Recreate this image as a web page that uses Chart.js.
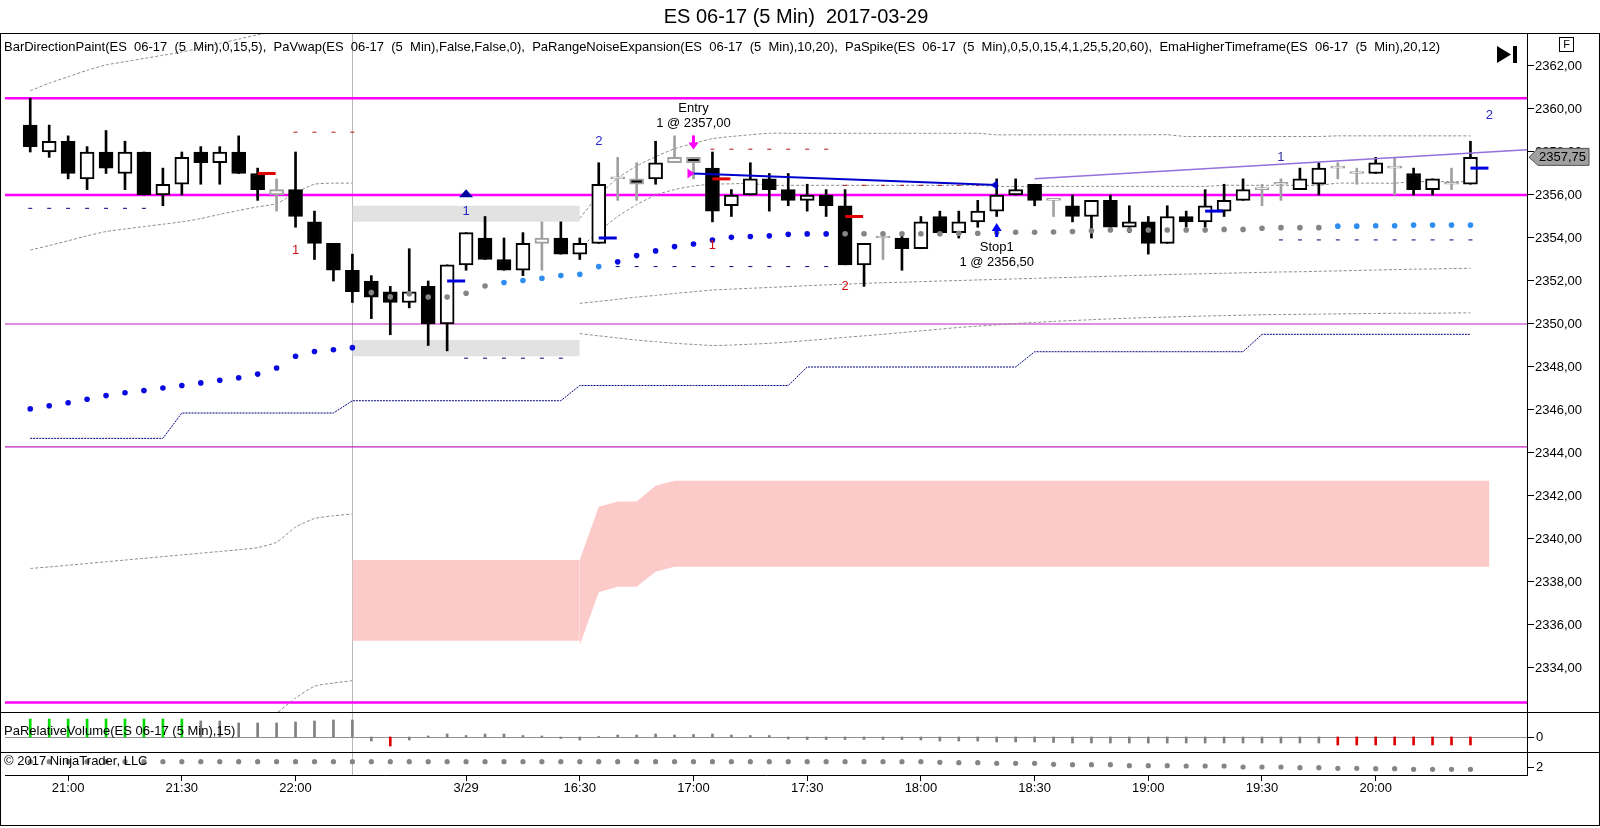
<!DOCTYPE html>
<html><head><meta charset="utf-8">
<script src="https://cdn.jsdelivr.net/npm/chart.js@4.4.0/dist/chart.umd.min.js"></script>
<style>html,body{margin:0;padding:0;background:#fff;overflow:hidden}canvas{display:block}</style>
</head><body>
<canvas id="c" width="1600" height="828"></canvas>
<script>
// ---------- DATA ----------
const categories = ["20:50","20:55","21:00","21:05","21:10","21:15","21:20","21:25","21:30","21:35","21:40","21:45","21:50","21:55","22:00","22:05","22:10","22:15",
"15:35","15:40","15:45","15:50","15:55","16:00","16:05","16:10","16:15","16:20","16:25","16:30","16:35","16:40","16:45","16:50","16:55","17:00",
"17:05","17:10","17:15","17:20","17:25","17:30","17:35","17:40","17:45","17:50","17:55","18:00","18:05","18:10","18:15","18:20","18:25","18:30",
"18:35","18:40","18:45","18:50","18:55","19:00","19:05","19:10","19:15","19:20","19:25","19:30","19:35","19:40","19:45","19:50","19:55","20:00",
"20:05","20:10","20:15","20:20","20:25"];
const xTickIdx  = [2,8,14,23,29,35,41,47,53,59,65,71];
const xTickText = ["21:00","21:30","22:00","3/29","16:30","17:00","17:30","18:00","18:30","19:00","19:30","20:00"];
const priceTicks = [2334,2336,2338,2340,2342,2344,2346,2348,2350,2352,2354,2356,2358,2360,2362];

const openP = [2359.25,2358.0,2358.5,2356.75,2358.0,2357.0,2358.0,2356.0,2356.5,2358.0,
 2357.5,2358.0,2357.0,2356.0,2356.25,2354.75,2353.75,2352.5,2352.0,2351.5,
 2351.0,2351.75,2350.0,2352.75,2354.0,2353.0,2352.5,2353.75,2354.0,2353.25,
 2353.75,2356.75,2356.75,2356.75,2357.5,2357.75,2357.25,2355.5,2356.0,2356.75,
 2356.25,2355.75,2356.0,2355.5,2352.75,2354.0,2354.0,2353.5,2355.0,2354.25,
 2354.75,2355.25,2356.0,2356.5,2355.75,2355.5,2355.0,2355.75,2354.5,2354.75,
 2353.75,2355.0,2354.75,2355.25,2355.75,2356.25,2356.5,2356.25,2356.5,2357.25,
 2357.0,2357.0,2357.25,2357.0,2356.25,2356.5,2356.5];
const highP = [2360.5,2359.25,2358.75,2358.25,2359.0,2358.5,2358.0,2357.25,2358.0,2358.25,
 2358.25,2358.75,2357.25,2356.75,2358.0,2355.25,2353.75,2353.25,2352.25,2351.75,
 2353.5,2352.0,2352.75,2354.25,2355.0,2354.0,2354.25,2354.75,2354.75,2354.0,
 2357.5,2357.75,2357.5,2358.5,2358.75,2357.75,2358.0,2356.25,2357.5,2357.0,
 2357.0,2356.5,2356.25,2356.25,2353.75,2354.25,2354.25,2355.0,2355.25,2355.25,
 2355.75,2356.75,2356.75,2356.5,2355.75,2356.0,2355.75,2356.0,2355.5,2355.0,
 2355.5,2355.25,2356.25,2356.5,2356.75,2356.5,2356.75,2357.25,2357.5,2357.5,
 2357.25,2357.75,2357.75,2357.25,2356.75,2357.25,2358.5];
const lowP = [2358.0,2357.75,2356.75,2356.25,2357.0,2356.25,2356.0,2355.5,2356.0,2356.5,
 2356.5,2357.0,2355.75,2355.25,2354.5,2353.0,2352.0,2351.0,2350.25,2349.5,
 2350.75,2349.0,2348.75,2352.5,2353.0,2352.5,2352.25,2352.5,2353.25,2353.0,
 2353.75,2355.75,2355.75,2356.5,2357.5,2356.75,2354.75,2355.0,2356.0,2355.25,
 2355.5,2355.25,2355.0,2352.75,2351.75,2353.0,2352.5,2353.5,2354.25,2354.0,
 2354.5,2355.0,2356.0,2355.5,2355.0,2354.75,2354.0,2354.5,2354.25,2353.25,
 2353.75,2354.5,2354.5,2355.0,2355.75,2355.5,2355.75,2356.25,2356.0,2356.75,
 2356.5,2357.0,2356.0,2356.0,2356.0,2356.25,2356.5];
const closeP = [2358.25,2358.5,2357.0,2358.0,2357.25,2358.0,2356.0,2356.5,2357.75,2357.5,
 2358.0,2357.0,2356.25,2356.25,2355.0,2353.75,2352.5,2351.5,2351.25,2351.0,
 2351.5,2350.0,2352.75,2354.25,2353.0,2352.5,2353.75,2354.0,2353.25,2353.75,
 2356.5,2356.75,2356.5,2357.5,2357.75,2357.5,2355.25,2356.0,2356.75,2356.25,
 2355.75,2356.0,2355.5,2352.75,2353.75,2354.0,2353.5,2354.75,2354.25,2354.75,
 2355.25,2356.0,2356.25,2355.75,2355.75,2355.0,2355.75,2354.5,2354.75,2353.75,
 2355.0,2354.75,2355.5,2355.75,2356.25,2356.25,2356.5,2356.75,2357.25,2357.25,
 2357.0,2357.5,2357.25,2356.25,2356.75,2356.5,2357.75];
const grayBars = [13,27,31,32,34,35,45,54,65,66,69,70,72,75];

const vwapDots = [2346.05,2346.2,2346.34,2346.5,2346.67,2346.8,2346.91,2347.02,2347.14,2347.26,
 2347.38,2347.5,2347.67,2347.95,2348.5,2348.72,2348.8,2348.9,2351.46,2351.26,
 2351.41,2351.25,2351.25,2351.43,2351.77,2351.93,2352.02,2352.13,2352.25,2352.31,
 2352.67,2352.89,2353.18,2353.4,2353.6,2353.72,2353.91,2354.03,2354.07,2354.1,
 2354.17,2354.19,2354.19,2354.2,2354.2,2354.2,2354.2,2354.2,2354.2,2354.22,
 2354.22,2354.25,2354.27,2354.27,2354.28,2354.3,2354.34,2354.37,2354.37,2354.37,
 2354.37,2354.37,2354.37,2354.4,2354.4,2354.45,2354.48,2354.48,2354.48,2354.55,
 2354.55,2354.57,2354.57,2354.6,2354.6,2354.6,2354.6];
const vwapColorCode = "bbbbbbbbbbbbbbbbbb"+"ggggggg"+"llllll"+"bbbbbbbbbbbb"+"gggggggggggggggggggggggggg"+"llllllll";

const emaHTF = [2344.68,2344.68,2344.68,2344.68,2344.68,2344.68,2344.68,2344.68,
 2345.86,2345.86,2345.86,2345.86,2345.86,2345.86,2345.86,2345.86,2345.86,
 2346.43,2346.43,2346.43,2346.43,2346.43,2346.43,2346.43,2346.43,2346.43,2346.43,2346.43,2346.43,
 2347.14,2347.14,2347.14,2347.14,2347.14,2347.14,2347.14,2347.14,2347.14,2347.14,2347.14,2347.14,
 2348.0,2348.0,2348.0,2348.0,2348.0,2348.0,2348.0,2348.0,2348.0,2348.0,2348.0,2348.0,
 2348.71,2348.71,2348.71,2348.71,2348.71,2348.71,2348.71,2348.71,2348.71,2348.71,2348.71,2348.71,
 2349.52,2349.52,2349.52,2349.52,2349.52,2349.52,2349.52,2349.52,2349.52,2349.52,2349.52,2349.52];

// noise-expansion bands, session 1 (from bar 0)
const band1Start = 0;
const bandUp1 = [2360.85,2361.2,2361.5,2361.8,2362.05,2362.2,2362.35,2362.5,2362.65,2362.85,2363.05,2363.25,2363.45,2363.6,2363.75,2363.85,2363.95,2364.0];
const bandLo1 = [2353.44,2353.65,2353.87,2354.1,2354.3,2354.42,2354.53,2354.64,2354.75,2354.9,2355.1,2355.28,2355.45,2355.6,2356.1,2356.5,2356.55,2356.55];
const farUp1  = [2338.63,2338.7,2338.78,2338.86,2338.94,2339.02,2339.1,2339.18,2339.26,2339.34,2339.42,2339.5,2339.6,2339.85,2340.55,2340.95,2341.08,2341.16];
const farLo1Start = 12;
const farLo1  = [2331.3,2331.9,2332.6,2333.15,2333.3,2333.41];
// session 2 (from bar 29)
const band2Start = 29;
const bandUp2 = [2354.92,2356.0,2356.78,2357.35,2357.78,2358.15,2358.4,2358.62,2358.72,2358.8,
 2358.87,2358.87,2358.87,2358.87,2358.87,2358.87,2358.87,2358.87,2358.87,2358.87,2358.87,2358.87,
 2358.8,2358.8,2358.8,2358.8,2358.8,2358.8,2358.8,2358.8,2358.8,2358.8,
 2358.72,2358.72,2358.72,2358.72,2358.72,2358.72,2358.72,2358.72,
 2358.75,2358.75,2358.75,2358.75,2358.75,2358.75,2358.75,2358.75];
const bandMid2 = [2353.52,2354.3,2355.0,2355.55,2356.0,2356.25,2356.42,2356.5,2356.52,2356.54,
 2356.45,2356.45,2356.45,2356.45,2356.45,2356.45,2356.45,2356.45,2356.45,2356.45,2356.45,2356.45,
 2356.4,2356.4,2356.4,2356.4,2356.4,2356.4,2356.4,2356.4,2356.4,2356.4,2356.4,2356.4,
 2356.45,2356.45,2356.45,2356.45,2356.45,2356.45,
 2356.55,2356.55,2356.55,2356.55,2356.62,2356.62,2356.62,2356.62];
const bandLow2a = [2350.96,2351.05,2351.15,2351.25,2351.33,2351.42,2351.5,2351.58,2351.62,2351.66,
 2351.7,2351.74,2351.78,2351.82,2351.85,2351.89,2351.92,2351.94,2351.97,2352.0,
 2352.02,2352.05,2352.07,2352.1,2352.12,2352.15,2352.17,2352.2,2352.22,2352.25,
 2352.27,2352.3,2352.32,2352.34,2352.36,2352.38,2352.4,2352.42,2352.43,2352.45,
 2352.47,2352.49,2352.51,2352.53,2352.55,2352.56,2352.58,2352.59];
const bandLow2b = [2349.55,2349.45,2349.35,2349.25,2349.18,2349.1,2349.05,2349.0,2349.02,2349.06,
 2349.1,2349.16,2349.23,2349.3,2349.38,2349.45,2349.52,2349.6,2349.68,2349.76,
 2349.84,2349.9,2349.96,2350.02,2350.07,2350.12,2350.16,2350.2,2350.24,2350.27,
 2350.3,2350.32,2350.35,2350.37,2350.39,2350.41,2350.43,2350.44,2350.45,2350.46,
 2350.47,2350.48,2350.49,2350.5,2350.5,2350.5,2350.51,2350.52];

// spike zones (gray) : bars 17..29
const zoneFrom = 17, zoneTo = 29;
const zoneTop = [2355.5, 2349.25];
const zoneBottom = [2354.75, 2348.5];
// pink band
const pinkLeftBars = [17, 29];
const pinkLeftTop = [2339.02, 2339.02];
const pinkLeftBottom = [2335.27, 2335.27];
const pinkRightStart = 29;
const pinkRightTop = [2339.03,2341.5,2341.74,2341.74,2342.48,
 2342.71,2342.71,2342.71,2342.71,2342.71,2342.71,2342.71,2342.71,2342.71,2342.71,2342.71,2342.71,2342.71,2342.71,2342.71,2342.71,2342.71,2342.71,2342.71,2342.71,2342.71,2342.71,
 2342.71,2342.71,2342.71,2342.71,2342.71,2342.71,2342.71,2342.71,2342.71,2342.71,2342.71,2342.71,2342.71,2342.71,2342.71,2342.71,2342.71,2342.71,2342.71,2342.71,2342.71,2342.71];
const pinkRightBottom = [2335.07,2337.52,2337.78,2337.78,2338.48,
 2338.71,2338.71,2338.71,2338.71,2338.71,2338.71,2338.71,2338.71,2338.71,2338.71,2338.71,2338.71,2338.71,2338.71,2338.71,2338.71,2338.71,2338.71,2338.71,2338.71,2338.71,2338.71,
 2338.71,2338.71,2338.71,2338.71,2338.71,2338.71,2338.71,2338.71,2338.71,2338.71,2338.71,2338.71,2338.71,2338.71,2338.71,2338.71,2338.71,2338.71,2338.71,2338.71,2338.71,2338.71];

// horizontal levels
const levelPrices = [2360.5, 2356.0, 2350.0, 2344.28, 2332.4];
const levelThick  = [true, true, false, false, true];
// trend lines [bar, price]
const blueTrend = [[35, 2357.0],[51, 2356.47]];
const purpleTrend = [[53, 2356.75],[79, 2358.1]];
// per-bar dash rows
const navyDashFrom = [0,23,31,66], navyDashTo = [6,28,42,76], navyDashPrice = [2355.38,2348.41,2352.67,2353.91];
const redDashFrom = [14,36,43], redDashTo = [17,42,51], redDashPrice = [2358.92,2358.13,2356.45];
// thick vwap ticks
const blueTickBar = [22,30,62,76], blueTickPrice = [2352.0,2354.0,2355.25,2357.25];
const redTickBar = [12,36,43], redTickPrice = [2357.0,2356.75,2355.0];
// annotations
const annText  = ["1","2","1","1","2","2","1","Entry","1 @ 2357,00","Stop1","1 @ 2356,50"];
const annBar   = [23,30,14,36,43,77,66,35,35,51,51];
const annPrice = [2355.22,2358.48,2353.44,2353.67,2351.74,2359.72,2357.75,2360.03,2359.33,2353.57,2352.85];
const annColor = ["#2828c8","#2828c8","#d01010","#d01010","#d01010","#2828c8","#3030a0","#000","#000","#000","#000"];
const sessionBreakBar = 17;
const lastPrice = 2357.75;

// lower panels
const relVol = [1.8,1.8,1.8,1.8,1.8,1.8,1.8,1.8,1.8,1.6,
 1.6,1.4,1.4,1.4,1.5,1.6,1.7,1.7,-0.4,-0.9,
 -0.3,0.1,0.3,0.15,0.3,0.3,0.15,0.1,-0.15,-0.3,
 0.05,0.2,0.2,0.3,0.2,0.25,0.3,0.2,0.15,0.15,
 -0.2,-0.25,-0.25,-0.25,-0.25,-0.25,-0.25,-0.3,-0.4,-0.4,
 -0.4,-0.5,-0.5,-0.5,-0.55,-0.6,-0.6,-0.6,-0.6,-0.6,
 -0.6,-0.6,-0.6,-0.6,-0.6,-0.6,-0.6,-0.6,-0.6,-0.8,
 -0.8,-0.8,-0.8,-0.8,-0.8,-0.8,-0.8];
const relVolColorCode = "GGGGGGGGG"+"gggggggggg"+"r"+"ggggggggggggggggggggggggggggggggggggggggggggggggg"+"rrrrrrrr";
const swingDots = [2.53,2.53,2.53,2.53,2.53,2.53,2.53,2.53,2.53,2.53,2.53,2.53,2.53,2.53,2.53,2.53,2.53,2.53,2.53,2.53,
 2.53,2.53,2.53,2.53,2.53,2.53,2.53,2.53,2.53,2.53,2.53,2.53,2.53,2.53,2.53,2.53,2.53,2.53,2.53,2.53,
 2.53,2.53,2.53,2.53,2.53,2.53,2.53,2.53,2.47,2.43,2.43,2.37,2.37,2.37,2.27,2.23,2.23,2.23,2.13,2.13,
 2.13,2.1,2.1,2.1,2.0,2.0,2.0,1.93,1.93,1.87,1.87,1.83,1.83,1.77,1.77,1.77,1.77];

const titleText = "ES 06-17 (5 Min)  2017-03-29";
const legendText = "BarDirectionPaint(ES  06-17  (5  Min),0,15,5),  PaVwap(ES  06-17  (5  Min),False,False,0),  PaRangeNoiseExpansion(ES  06-17  (5  Min),10,20),  PaSpike(ES  06-17  (5  Min),0,5,0,15,4,1,25,5,20,60),  EmaHigherTimeframe(ES  06-17  (5  Min),20,12)";
const volLabel = "PaRelativeVolume(ES 06-17 (5 Min),15)";
const copyText = "\u00A9 2017 NinjaTrader, LLC";

// ---------- LAYOUT / STYLE ----------
const FONT = '"Liberation Sans", Arial, sans-serif';
const X_MIN = -1.3316, X_MAX = 78.984;
const Y_MIN = 2329.023, Y_MAX = 2363.488;
const MAIN_BOTTOM = 712, VOL_BOTTOM = 752;
const clipMain = {left:0, top:0, right:0, bottom:-63};
const clipVol = {left:0, top:-678, right:0, bottom:-23};
const clipSwing = {left:0, top:-718, right:0, bottom:0};
const GRAYC = '#a0a0a0';
const bars = closeP.map((_, i) => i);
const isGray = i => grayBars.includes(i);
const dotCol = {b:'#0a0ae0', l:'#2e8ef0', g:'#858585'};
const volCol = {G:'#00dd00', g:'#808080', r:'#dd0000'};

const datasets = [];
// pink band (left & right parts)
datasets.push({type:'line', data: pinkLeftBars.map((b,k)=>({x:b,y:pinkLeftTop[k]})), borderWidth:0, pointRadius:0, fill:'+1', backgroundColor:'#fdcaca', order:100, clip:clipMain});
datasets.push({type:'line', data: pinkLeftBars.map((b,k)=>({x:b,y:pinkLeftBottom[k]})), borderWidth:0, pointRadius:0, fill:false, order:100, clip:clipMain});
datasets.push({type:'line', data: pinkRightTop.map((v,k)=>({x:pinkRightStart+k,y:v})), borderWidth:0, pointRadius:0, fill:'+1', backgroundColor:'#fdcaca', order:100, clip:clipMain});
datasets.push({type:'line', data: pinkRightBottom.map((v,k)=>({x:pinkRightStart+k,y:v})), borderWidth:0, pointRadius:0, fill:false, order:100, clip:clipMain});
// gray zones
zoneTop.forEach((t,k)=>{
  datasets.push({type:'line', data:[{x:zoneFrom,y:t},{x:zoneTo,y:t}], borderWidth:0, pointRadius:0, fill:'+1', backgroundColor:'#e2e2e2', order:99, clip:clipMain});
  datasets.push({type:'line', data:[{x:zoneFrom,y:zoneBottom[k]},{x:zoneTo,y:zoneBottom[k]}], borderWidth:0, pointRadius:0, fill:false, order:99, clip:clipMain});
});
// dashed bands
function bandDS(arr, start){
  return {type:'line', data: arr.map((v,k)=>({x:start+k,y:v})), borderColor:'#8c8c8c', borderWidth:1, borderDash:[3,2], pointRadius:0, fill:false, tension:0.2, order:90, clip:clipMain};
}
[ [bandUp1,band1Start],[bandLo1,band1Start],[farUp1,band1Start],[farLo1,farLo1Start],
  [bandUp2,band2Start],[bandMid2,band2Start],[bandLow2a,band2Start],[bandLow2b,band2Start] ].forEach(p=>datasets.push(bandDS(p[0],p[1])));
// EMA higher timeframe
datasets.push({type:'line', data: emaHTF.map((v,i)=>({x:i,y:v})), borderColor:'#000080', borderWidth:1, borderDash:[2,1], pointRadius:0, fill:false, order:85, clip:clipMain});
// candles: wicks and bodies
datasets.push({type:'bar', data: bars.map(i=>({x:i,y:[lowP[i],highP[i]]})), backgroundColor: bars.map(i=>isGray(i)?GRAYC:'#000'), borderWidth:0, barThickness:2, grouped:false, order:21, clip:clipMain});
datasets.push({type:'bar', data: bars.map(i=>({x:i,y:[openP[i],closeP[i]]})), backgroundColor: bars.map(i=>closeP[i]<openP[i]?'#000':'#fff'),
  borderColor: bars.map(i=>isGray(i)?GRAYC:'#000'), borderWidth:2, borderSkipped:false, barThickness:14, minBarLength:2, grouped:false, order:20, clip:clipMain});
// vwap dots
datasets.push({type:'line', data: vwapDots.map((v,i)=>({x:i,y:v})), showLine:false, pointRadius:2.8, pointBorderWidth:0,
  pointBackgroundColor: bars.map(i=>dotCol[vwapColorCode[i]]), order:5, clip:clipMain});
// dash rows
function dashRow(from,to,price,color){
  const d=[]; for(let i=from;i<=to;i++) d.push({x:i,y:price});
  return {type:'line', data:d, showLine:false, pointStyle:'line', pointRadius:2, pointBorderWidth:1, pointBorderColor:color, order:6, clip:clipMain};
}
navyDashFrom.forEach((f,k)=>datasets.push(dashRow(f,navyDashTo[k],navyDashPrice[k],'#000080')));
redDashFrom.forEach((f,k)=>datasets.push(dashRow(f,redDashTo[k],redDashPrice[k],'#b01010')));
// trend lines
datasets.push({type:'line', data: blueTrend.map(p=>({x:p[0],y:p[1]})), borderColor:'#0000cc', borderWidth:2, pointRadius:0, fill:false, order:4, clip:clipMain});
datasets.push({type:'line', data: purpleTrend.map(p=>({x:p[0],y:p[1]})), borderColor:'#9370db', borderWidth:1.5, pointRadius:0, fill:false, order:4, clip:clipMain});
// relative volume
datasets.push({type:'bar', yAxisID:'yv', data: relVol.map((v,i)=>({x:i,y:v})), backgroundColor: bars.map(i=>volCol[relVolColorCode[i]]), borderWidth:0, barThickness:2, grouped:false, order:3, clip:clipVol});
// swing dots
datasets.push({type:'line', yAxisID:'yd', data: swingDots.map((v,i)=>({x:i,y:v})), showLine:false, pointRadius:2.6, pointBorderWidth:0, pointBackgroundColor:'#858585', order:3, clip:clipSwing});

function tri(ctx, pts, color){ ctx.fillStyle=color; ctx.beginPath(); ctx.moveTo(pts[0][0],pts[0][1]); for(let k=1;k<pts.length;k++) ctx.lineTo(pts[k][0],pts[k][1]); ctx.closePath(); ctx.fill(); }

const overlay = {
  id:'overlay',
  beforeDatasetsDraw(chart){
    const {ctx, chartArea:a, scales:{x,y,yv}} = chart;
    ctx.save();
    const sx = Math.round(x.getPixelForValue(sessionBreakBar))+0.5;
    ctx.strokeStyle='#b8b8b8'; ctx.lineWidth=1;
    ctx.beginPath(); ctx.moveTo(sx,a.top); ctx.lineTo(sx,a.bottom); ctx.stroke();
    levelPrices.forEach((p,k)=>{
      const py = y.getPixelForValue(p);
      ctx.strokeStyle = levelThick[k] ? '#ff00ff' : '#c020c0';
      ctx.lineWidth = levelThick[k] ? 2.5 : 1.2;
      ctx.beginPath(); ctx.moveTo(a.left,py); ctx.lineTo(a.right,py); ctx.stroke();
    });
    const zy = Math.round(yv.getPixelForValue(0))+0.5;
    ctx.strokeStyle='#909090'; ctx.lineWidth=1;
    ctx.beginPath(); ctx.moveTo(a.left,zy); ctx.lineTo(a.right,zy); ctx.stroke();
    ctx.restore();
  },
  afterDatasetsDraw(chart){
    const {ctx, scales:{x,y}} = chart;
    ctx.save();
    ctx.lineWidth=3; ctx.lineCap='butt';
    const step = x.getPixelForValue(1)-x.getPixelForValue(0);
    blueTickBar.forEach((b,k)=>{ const px=x.getPixelForValue(b), py=y.getPixelForValue(blueTickPrice[k]); ctx.strokeStyle='#0000dd'; ctx.beginPath(); ctx.moveTo(px,py); ctx.lineTo(px+step*0.95,py); ctx.stroke(); });
    redTickBar.forEach((b,k)=>{ const px=x.getPixelForValue(b), py=y.getPixelForValue(redTickPrice[k]); ctx.strokeStyle='#e00000'; ctx.beginPath(); ctx.moveTo(px,py); ctx.lineTo(px+step*0.95,py); ctx.stroke(); });
    let px, py;
    px=x.getPixelForValue(23); py=y.getPixelForValue(2356.08);
    tri(ctx,[[px-7,py+4],[px+7,py+4],[px,py-4]],'#0000a0');
    px=x.getPixelForValue(35); py=y.getPixelForValue(2358.4);
    ctx.fillStyle='#ff00ff'; ctx.fillRect(px-1.5,py-8,3,8);
    tri(ctx,[[px-5,py-1],[px+5,py-1],[px,py+6]],'#ff00ff');
    py=y.getPixelForValue(blueTrend[0][1]);
    tri(ctx,[[px-6,py-5],[px-6,py+5],[px+1,py]],'#ff00ff');
    px=x.getPixelForValue(51); py=y.getPixelForValue(2354.37);
    ctx.fillStyle='#0000ff'; ctx.fillRect(px-1.5,py-1,3,8);
    tri(ctx,[[px-5,py+1],[px+5,py+1],[px,py-7]],'#0000ff');
    px=x.getPixelForValue(blueTrend[1][0]); py=y.getPixelForValue(blueTrend[1][1]);
    tri(ctx,[[px-6,py],[px+1,py-5],[px+1,py+5]],'#0000cc');
    ctx.textAlign='center'; ctx.textBaseline='middle';
    annText.forEach((t,k)=>{ ctx.font = '13px '+FONT; ctx.fillStyle=annColor[k]; ctx.fillText(t, x.getPixelForValue(annBar[k]), y.getPixelForValue(annPrice[k])); });
    ctx.restore();
  },
  afterDraw(chart){
    const {ctx, chartArea:a, scales:{y,yv,yd}} = chart;
    const W = chart.width;
    ctx.save();
    ctx.strokeStyle='#000'; ctx.lineWidth=1;
    [MAIN_BOTTOM, VOL_BOTTOM].forEach(v=>{ ctx.beginPath(); ctx.moveTo(0,v+0.5); ctx.lineTo(W,v+0.5); ctx.stroke(); });
    ctx.beginPath(); ctx.moveTo(0,33.5); ctx.lineTo(W,33.5); ctx.stroke();
    ctx.strokeRect(0.5,33.5,W-1,792);
    ctx.fillStyle='#000'; ctx.textBaseline='middle'; ctx.textAlign='center';
    ctx.font='20px '+FONT; ctx.fillText(titleText, 796, 17);
    ctx.textAlign='left'; ctx.font='13px '+FONT;
    ctx.fillText(legendText, 4, 47);
    ctx.fillText(volLabel, 4, 731);
    ctx.fillText(copyText, 4, 761);
    ctx.font='13px '+FONT;
    [[yv,0,'0'],[yd,2,'2']].forEach(r=>{ const py=Math.round(r[0].getPixelForValue(r[1]))+0.5; ctx.beginPath(); ctx.moveTo(a.right,py); ctx.lineTo(a.right+7,py); ctx.stroke(); ctx.fillText(r[2], a.right+9, py); });
    const cy = y.getPixelForValue(lastPrice);
    ctx.fillStyle='#a0a0a0'; ctx.strokeStyle='#505050';
    ctx.beginPath(); ctx.moveTo(a.right+2,cy); ctx.lineTo(a.right+11,cy-9); ctx.lineTo(a.right+62,cy-9); ctx.lineTo(a.right+62,cy+8); ctx.lineTo(a.right+11,cy+8); ctx.closePath(); ctx.fill(); ctx.stroke();
    ctx.fillStyle='#000'; ctx.fillText(lastPrice.toFixed(2).replace('.',','), a.right+12, cy);
    ctx.strokeStyle='#000'; ctx.strokeRect(1559.5,37.5,14,14);
    ctx.font='11px '+FONT; ctx.textAlign='center'; ctx.fillText('F',1566.5,44.5);
    tri(ctx,[[1497,46],[1497,63],[1511,54.5]],'#000');
    ctx.fillStyle='#000'; ctx.fillRect(1513,46,4,17);
    ctx.restore();
  }
};

new Chart(document.getElementById('c'), {
  type:'bar',
  data:{ datasets },
  options:{
    responsive:false, animation:false, devicePixelRatio:1, events:[],
    layout:{padding:{top:34,left:1,right:0,bottom:0}},
    plugins:{legend:{display:false}, tooltip:{enabled:false}, title:{display:false}},
    scales:{
      x:{type:'linear', min:X_MIN, max:X_MAX, offset:false, position:'bottom',
        afterFit(s){ s.height = 53; },
        afterBuildTicks(s){ s.ticks = xTickIdx.map(v=>({value:v})); },
        ticks:{autoSkip:false, maxRotation:0, minRotation:0, padding:0, color:'#000', font:{family:FONT,size:13},
          callback(v){ const k=xTickIdx.indexOf(v); return k>=0 ? xTickText[k] : ''; }},
        grid:{drawOnChartArea:false, drawTicks:true, tickLength:6, color:'#000', offset:false},
        border:{display:true, color:'#000', width:1}},
      y:{type:'linear', position:'right', min:Y_MIN, max:Y_MAX, beginAtZero:false,
        afterFit(s){ s.width = 73; },
        afterBuildTicks(s){ s.ticks = priceTicks.map(v=>({value:v})); },
        ticks:{padding:1, color:'#000', font:{family:FONT,size:13}, callback(v){ return Number(v).toFixed(2).replace('.',','); }},
        grid:{drawOnChartArea:false, drawTicks:true, tickLength:7, color:'#000'},
        border:{display:true, color:'#000', width:1}},
      yv:{type:'linear', display:false, min:-3.8, max:70.3, beginAtZero:false},
      yd:{type:'linear', display:false, min:1.2, max:75.3, beginAtZero:false}
    }
  },
  plugins:[overlay]
});
</script>
</body></html>
